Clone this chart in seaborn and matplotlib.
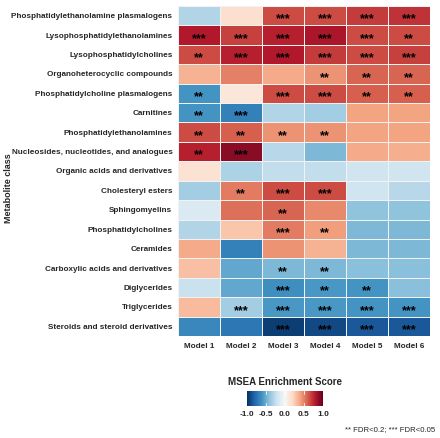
import matplotlib
matplotlib.use('Agg')
import matplotlib.pyplot as plt
import numpy as np
import pandas as pd
import seaborn as sns

# metabolite classes (rows, top to bottom) and models (columns)
classes = ['Phosphatidylethanolamine plasmalogens', 'Lysophosphatidylethanolamines',
           'Lysophosphatidylcholines', 'Organoheterocyclic compounds',
           'Phosphatidylcholine plasmalogens', 'Carnitines', 'Phosphatidylethanolamines',
           'Nucleosides, nucleotides, and analogues', 'Organic acids and derivatives',
           'Cholesteryl esters', 'Sphingomyelins', 'Phosphatidylcholines', 'Ceramides',
           'Carboxylic acids and derivatives', 'Diglycerides', 'Triglycerides',
           'Steroids and steroid derivatives']
models = ['Model 1', 'Model 2', 'Model 3', 'Model 4', 'Model 5', 'Model 6']

# enrichment scores, one list per model (estimated from the colours)
model_1 = [-0.30, 0.80, 0.65, 0.35, -0.60, -0.60, 0.65, 0.78, 0.15, -0.35, -0.15, -0.30, 0.38, 0.30, -0.22, 0.32, -0.65]
model_2 = [0.17, 0.68, 0.78, 0.50, 0.12, -0.68, 0.60, 0.90, -0.32, 0.52, 0.55, 0.28, -0.68, -0.52, -0.52, -0.35, -0.72]
model_3 = [0.65, 0.78, 0.80, 0.38, 0.65, -0.30, 0.45, -0.28, -0.25, 0.65, 0.58, 0.52, 0.45, -0.45, -0.62, -0.58, -0.95]
model_4 = [0.65, 0.82, 0.70, 0.45, 0.65, -0.35, 0.45, -0.45, -0.25, 0.65, 0.48, 0.42, 0.35, -0.45, -0.58, -0.58, -0.90]
model_5 = [0.70, 0.65, 0.65, 0.58, 0.60, 0.40, 0.40, 0.38, -0.20, -0.20, -0.40, -0.45, -0.45, -0.42, -0.60, -0.60, -0.85]
model_6 = [0.72, 0.65, 0.68, 0.58, 0.60, 0.40, 0.40, 0.36, -0.20, -0.28, -0.40, -0.45, -0.45, -0.42, -0.42, -0.60, -0.85]

# significance marks
sig_1 = ['', '***', '**', '', '**', '**', '**', '**', '', '', '', '', '', '', '', '', '']
sig_2 = ['', '***', '***', '', '', '***', '**', '***', '', '**', '', '', '', '', '', '***', '']
sig_3 = ['***', '***', '***', '', '***', '', '**', '', '', '***', '**', '***', '', '**', '***', '***', '***']
sig_4 = ['***', '***', '***', '**', '***', '', '**', '', '', '***', '', '**', '', '**', '**', '***', '***']
sig_5 = ['***', '***', '***', '**', '**', '', '', '', '', '', '', '', '', '', '**', '***', '***']
sig_6 = ['***', '**', '***', '**', '**', '', '', '', '', '', '', '', '', '', '', '***', '***']

scores = pd.DataFrame(dict(zip(models, [model_1, model_2, model_3, model_4, model_5, model_6])), index=classes)
stars = pd.DataFrame(dict(zip(models, [sig_1, sig_2, sig_3, sig_4, sig_5, sig_6])), index=classes)

sns.set_style('white')
plt.rcParams['font.family'] = ['Liberation Sans', 'DejaVu Sans']

fig = plt.figure(figsize=(4.4, 4.39), dpi=100)
ax = fig.add_axes([0.4045, 0.2323, 0.5727, 0.752])
cax = fig.add_axes([0.561, 0.0729, 0.173, 0.034])

sns.heatmap(scores, ax=ax, cmap='RdBu_r', vmin=-1, vmax=1, center=0,
            annot=stars, fmt='', annot_kws={'size': 9, 'weight': 'bold', 'color': 'black'},
            linewidths=0.4, linecolor='#f2f2f2',
            cbar_ax=cax, cbar_kws={'orientation': 'horizontal', 'ticks': [-1, -0.5, 0, 0.5, 1]})

# push the stars a little lower in each cell
for t in ax.texts:
    x, y = t.get_position()
    t.set_position((x, y + 0.15))

ax.set_ylabel('Metabolite class', fontsize=6.5, fontweight='bold')
ax.yaxis.set_label_coords(-0.655, 0.45)
ax.set_xlabel('')
ax.tick_params(axis='both', length=2, color='#bbbbbb', pad=2)
ax.set_yticklabels(classes, fontsize=5.9, fontweight='bold', rotation=0)
ax.set_xticklabels(models, fontsize=5.9, fontweight='bold', rotation=0)

cax.set_title('MSEA Enrichment Score', fontsize=7, fontweight='bold', pad=5)
cax.set_xticklabels(['-1.0', '-0.5', '0.0', '0.5', '1.0'], fontsize=6, fontweight='bold')
cax.tick_params(axis='x', length=0, pad=3)
for v in [-0.5, 0, 0.5]:
    cax.axvline(v, color='white', lw=0.6, ymin=0, ymax=0.2)
    cax.axvline(v, color='white', lw=0.6, ymin=0.8, ymax=1)

fig.text(0.99, 0.014, '** FDR<0.2; *** FDR<0.05', ha='right', va='bottom', fontsize=5.6)

fig.savefig('out.png', dpi=100)
